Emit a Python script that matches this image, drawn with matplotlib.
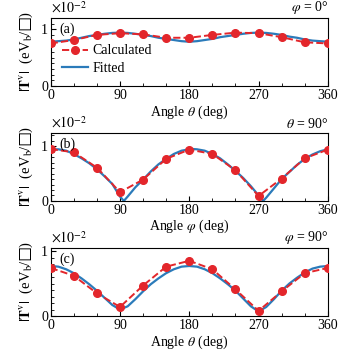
import numpy as np
import matplotlib
matplotlib.use('Agg')
import matplotlib.pyplot as plt
from matplotlib.ticker import MultipleLocator

plt.rcParams['font.family'] = 'serif'
plt.rcParams['font.serif'] = ['Liberation Serif', 'DejaVu Serif']
plt.rcParams['mathtext.fontset'] = 'stix'
plt.rcParams['font.size'] = 10

# angulos dos pontos calculados (graus)
ang_calc = [0, 30, 60, 90, 120, 150, 180, 210, 240, 270, 300, 330, 360]
# angulos da curva ajustada
ang_fit = list(range(0, 361, 10))
ang_fit_b = [0, 10, 20, 30, 40, 50, 60, 70, 80, 90, 95, 100, 110, 120, 130, 140, 150, 160, 170,
             180, 185, 190, 200, 210, 220, 230, 240, 250, 260, 270, 276, 280, 290, 300, 310,
             320, 330, 340, 350, 360]

# (a) phi = 0
calc_a = [0.75, 0.81, 0.90, 0.93, 0.91, 0.85, 0.85, 0.90, 0.94, 0.93, 0.86, 0.77, 0.75]
fit_a = [0.78, 0.79, 0.80, 0.82, 0.85, 0.88, 0.90, 0.92, 0.935, 0.94, 0.935, 0.92, 0.90,
         0.88, 0.85, 0.83, 0.81, 0.79, 0.78, 0.79, 0.81, 0.83, 0.86, 0.88, 0.90, 0.92,
         0.935, 0.94, 0.935, 0.92, 0.90, 0.87, 0.85, 0.82, 0.80, 0.79, 0.78]

# (b) theta = 90
calc_b = [0.95, 0.89, 0.61, 0.16, 0.39, 0.77, 0.94, 0.86, 0.56, 0.09, 0.41, 0.78, 0.94]
fit_b = [0.945, 0.945, 0.92, 0.86, 0.78, 0.69, 0.58, 0.45, 0.31, 0.08, 0.0, 0.08, 0.25,
         0.39, 0.54, 0.67, 0.77, 0.86, 0.92, 0.945, 0.95, 0.945, 0.92, 0.86, 0.78, 0.67,
         0.55, 0.42, 0.27, 0.10, 0.0, 0.06, 0.23, 0.40, 0.53, 0.66, 0.77, 0.85, 0.91, 0.945]

# (c) phi = 90
calc_c = [0.74, 0.62, 0.35, 0.14, 0.47, 0.76, 0.85, 0.72, 0.41, 0.08, 0.38, 0.66, 0.74]
fit_c = [0.77, 0.76, 0.72, 0.66, 0.58, 0.49, 0.39, 0.28, 0.17, 0.10, 0.15, 0.26, 0.38,
         0.49, 0.58, 0.66, 0.72, 0.76, 0.77, 0.76, 0.72, 0.66, 0.58, 0.49, 0.39, 0.27,
         0.15, 0.07, 0.14, 0.26, 0.39, 0.50, 0.59, 0.67, 0.73, 0.76, 0.77]

paineis = [
    ('(a)', r'$\varphi$ = 0°', r'Angle $\theta$ (deg)', calc_a, ang_fit, fit_a, 1.2),
    ('(b)', r'$\theta$ = 90°', r'Angle $\varphi$ (deg)', calc_b, ang_fit_b, fit_b, 1.25),
    ('(c)', r'$\varphi$ = 90°', r'Angle $\theta$ (deg)', calc_c, ang_fit, fit_c, 1.05),
]

vermelho = '#e3262b'
azul = '#2b7bba'

fig = plt.figure(figsize=(3.38, 3.5), dpi=100)
bottoms = [0.754, 0.426, 0.097]
for i, (letra, titulo, xlabel, calc, xf, fit, ytop) in enumerate(paineis):
    ax = fig.add_axes([0.150, bottoms[i], 0.820, 0.195])
    ax.plot(xf, fit, '-', color=azul, lw=1.6, label='Fitted', zorder=2)
    ax.plot(ang_calc, calc, '--o', color=vermelho, lw=1.4, ms=5.5, label='Calculated', zorder=3)
    ax.set_xlim(0, 360)
    ax.set_ylim(0, ytop)
    ax.xaxis.set_major_locator(MultipleLocator(90))
    ax.xaxis.set_minor_locator(MultipleLocator(30))
    ax.yaxis.set_major_locator(MultipleLocator(1))
    ax.yaxis.set_minor_locator(MultipleLocator(0.1))
    ax.tick_params(which='both', direction='in', labelsize=10, pad=2)
    ax.tick_params(which='major', length=3.5, width=0.8)
    ax.tick_params(which='minor', length=2, width=0.6)
    ax.set_xlabel(xlabel, fontsize=10, labelpad=1)
    ax.set_ylabel('$|\\mathbf{T}^{\\mathrm{v}}|$  (eV$_\\mathrm{b}$/$\u25a1$)', fontsize=10.5, labelpad=4)
    ax.text(0.03, 0.93, letra, transform=ax.transAxes, va='top', ha='left', fontsize=10)
    ax.text(1.0, 1.03, titulo, transform=ax.transAxes, va='bottom', ha='right', fontsize=10)
    ax.text(0.0, 1.03, r'$\times10^{-2}$', transform=ax.transAxes, va='bottom', ha='left', fontsize=10)
    if i == 0:
        h, l = ax.get_legend_handles_labels()
        ax.legend(h[::-1], l[::-1], loc='upper left', bbox_to_anchor=(0.04, 0.61), frameon=False,
                  fontsize=10, numpoints=1, handlelength=1.9, handletextpad=0.3,
                  labelspacing=0.35, borderaxespad=0, borderpad=0)

fig.savefig('out.png', dpi=100)
